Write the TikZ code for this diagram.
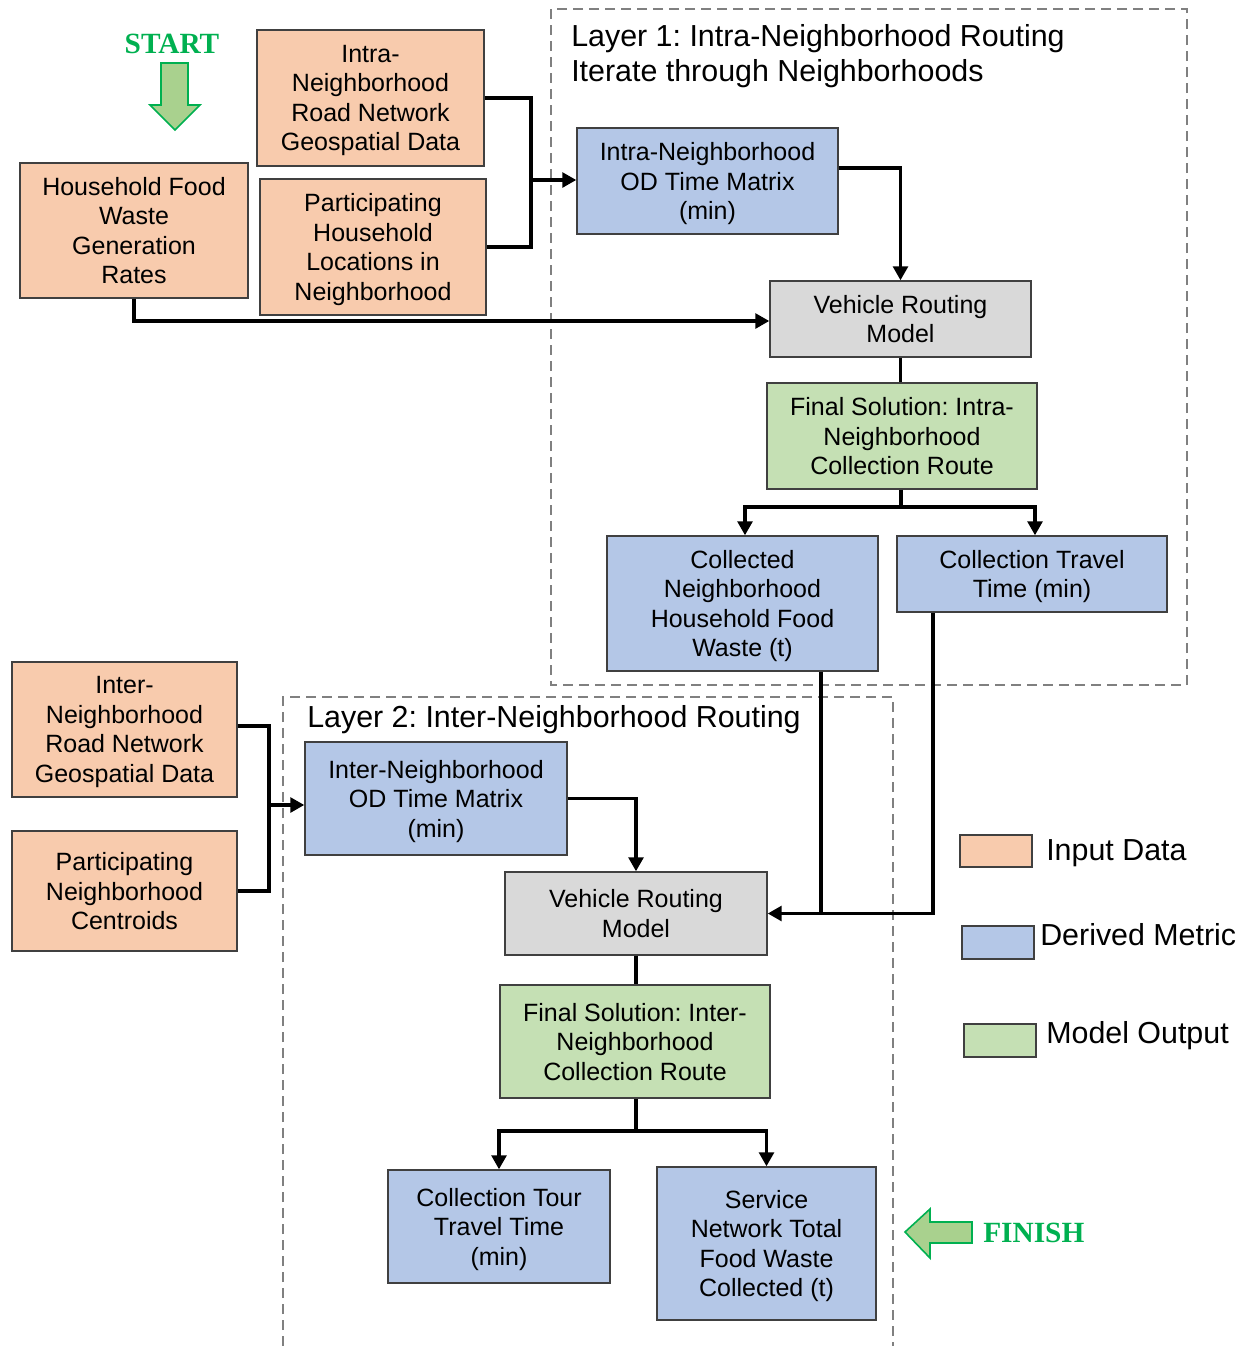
\documentclass[tikz,border=0pt]{standalone}
\usepackage{fontspec}
\setmainfont{Liberation Sans}
\newfontfamily\serifbold{Liberation Serif}
\usetikzlibrary{arrows.meta}
\frenchspacing

\definecolor{inputfill}{HTML}{F8CBAD}
\definecolor{metricfill}{HTML}{B4C7E7}
\definecolor{outputfill}{HTML}{C5E0B4}
\definecolor{modelfill}{HTML}{D9D9D9}
\definecolor{boxline}{HTML}{404040}
\definecolor{framegray}{HTML}{808080}
\definecolor{signgreen}{HTML}{00B050}
\definecolor{signfill}{HTML}{A9D18E}

\tikzset{
  swatch/.style={draw=boxline, line width=1pt, inner sep=0pt},
  box/.style={swatch, align=center, text depth=0pt,
    font=\fontsize{18.75}{22.1}\selectfont},
  inputbox/.style={box, fill=inputfill},
  metricbox/.style={box, fill=metricfill},
  outputbox/.style={box, fill=outputfill},
  modelbox/.style={box, fill=modelfill},
  link/.style={line width=2.8pt},
  arr/.style={link, -{Triangle[length=10.5pt,width=11pt]}},
  layerframe/.style={draw=framegray, line width=1.2pt, dash pattern=on 7.5pt off 4.5pt},
  bigtext/.style={anchor=west, inner sep=0pt, font=\fontsize{22.8}{27}\selectfont},
  signtext/.style={inner sep=0pt, text=signgreen, font=\serifbold\bfseries\fontsize{22}{26}\selectfont},
  signarrow/.style={draw=signgreen, fill=signfill, line width=1.2pt, line join=miter},
}

\begin{document}
\begin{tikzpicture}[x=0.75pt,y=0.75pt,yscale=-1,xscale=1]
\useasboundingbox (0,0) rectangle (1248,1346);
%Layer frames
\draw[layerframe] (551,9) rectangle (1187,685);
\draw[layerframe] (283,1346) -- (283,697) -- (893,697) -- (893,1346);
% Layer titles
\node[bigtext] (title1) at (571,39) {Layer 1: Intra-Neighborhood Routing};
\node[bigtext] (title1b) at (571,74) {Iterate through Neighborhoods};
\node[bigtext] (title2) at (307,720) {Layer 2: Inter-Neighborhood Routing};
%Start sign
\node[signtext] (start) at (172,44) {START};
\draw[signarrow] (161,63) -- (188,63) -- (188,105) -- (200,105) -- (175,130) -- (150,105) -- (161,105) -- cycle;
%Finish sign
\node[signtext, anchor=west] (finish) at (983,1233) {FINISH};
\draw[signarrow] (905,1232) -- (930,1209) -- (930,1222) -- (972,1222) -- (972,1243) -- (930,1243) -- (930,1258) -- cycle;

%Layer 1 boxes
\node[inputbox, minimum width=171pt, minimum height=101.25pt] (hhwaste) at (134,230.5) {Household Food\\Waste\\Generation\\Rates};
\node[inputbox, minimum width=170.25pt, minimum height=102pt] (roadnet) at (370.5,98) {Intra-\\Neighborhood\\Road Network\\Geospatial Data};
\node[inputbox, minimum width=169.5pt, minimum height=102pt] (hhloc) at (373,247) {Participating\\Household\\Locations in\\Neighborhood};
\node[metricbox, minimum width=195.75pt, minimum height=79.5pt] (odintra) at (707.5,181) {Intra-Neighborhood\\OD Time Matrix\\(min)};
\node[modelbox, minimum width=195.75pt, minimum height=57pt] (vrmone) at (900.5,319) {Vehicle Routing\\Model};
\node[outputbox, minimum width=202.5pt, minimum height=79.5pt] (finalone) at (902,436) {Final Solution: Intra-\\Neighborhood\\Collection Route};
\node[metricbox, minimum width=203.25pt, minimum height=101.25pt] (collected) at (742.5,603.5) {Collected\\Neighborhood\\Household Food\\Waste (t)};
\node[metricbox, minimum width=202.5pt, minimum height=57pt] (traveltime) at (1032,574) {Collection Travel\\Time (min)};

%Layer 2 boxes
\node[inputbox, minimum width=168.75pt, minimum height=101.25pt] (roadnettwo) at (124.5,729.5) {Inter-\\Neighborhood\\Road Network\\Geospatial Data};
\node[inputbox, minimum width=168.75pt, minimum height=90pt] (centroids) at (124.5,891) {Participating\\Neighborhood\\Centroids};
\node[metricbox, minimum width=196.5pt, minimum height=84.75pt] (odinter) at (436,798.5) {Inter-Neighborhood\\OD Time Matrix\\(min)};
\node[modelbox, minimum width=196.5pt, minimum height=62.25pt] (vrmtwo) at (636,913.5) {Vehicle Routing\\Model};
\node[outputbox, minimum width=202.5pt, minimum height=84.75pt] (finaltwo) at (635,1041.5) {Final Solution: Inter-\\Neighborhood\\Collection Route};
\node[metricbox, minimum width=166.5pt, minimum height=84.75pt] (tourtime) at (499,1226.5) {Collection Tour\\Travel Time\\(min)};
\node[metricbox, minimum width=164.25pt, minimum height=114.75pt] (totalfw) at (766.5,1243.5) {Service\\Network Total\\Food Waste\\Collected (t)};

%Legend
\node[swatch, fill=inputfill, minimum width=54pt, minimum height=24pt] (leginput) at (996,851) {};
\node[swatch, fill=metricfill, minimum width=54pt, minimum height=24.75pt] (legmetric) at (998,942.5) {};
\node[swatch, fill=outputfill, minimum width=54pt, minimum height=24.75pt] (legoutput) at (1000,1040.5) {};
\node[bigtext] (leginputtext) at (1046,853) {Input Data};
\node[bigtext] (legmetrictext) at (1040,935) {Derived Metric};
\node[bigtext] (legoutputtext) at (1046,1036) {Model Output};

%Connectors layer 1
\coordinate (joinone) at (531,180);
\draw[link] (roadnet.east) -| (joinone) |- (hhloc.east);
\draw[arr] (joinone) -- (odintra.west |- joinone);
\draw[arr] (odintra.east |- 0,168) -| (vrmone.north);
\draw[arr] (hhwaste.south) |- (0,321 -| vrmone.west);
\draw[link] (vrmone.south) -- (vrmone.south |- finalone.north);
\coordinate (splitone) at (901,507);
\draw[link] (finalone.south -| splitone) -- (splitone);
\draw[arr] (splitone) -| (745,0 |- collected.north);
\draw[arr] (splitone) -| (1035,0 |- traveltime.north);
\coordinate (mergeone) at (821,912);
\draw[link] (collected.south -| mergeone) -- (mergeone);
\draw[arr] (traveltime.south -| 933,0) |- (vrmtwo.east);

%Connectors layer 2
\coordinate (jointwo) at (269,805);
\draw[link] (roadnettwo.east |- 0,726) -| (jointwo) |- (centroids.east);
\draw[arr] (jointwo) -- (odinter.west |- jointwo);
\draw[arr] (odinter.east) -| (vrmtwo.north);
\draw[link] (vrmtwo.south) -- (vrmtwo.south |- finaltwo.north);
\coordinate (splittwo) at (636,1131);
\draw[link] (finaltwo.south -| splittwo) -- (splittwo);
\draw[arr] (splittwo) -| (tourtime.north);
\draw[arr] (splittwo) -| (totalfw.north);
\end{tikzpicture}
\end{document}
